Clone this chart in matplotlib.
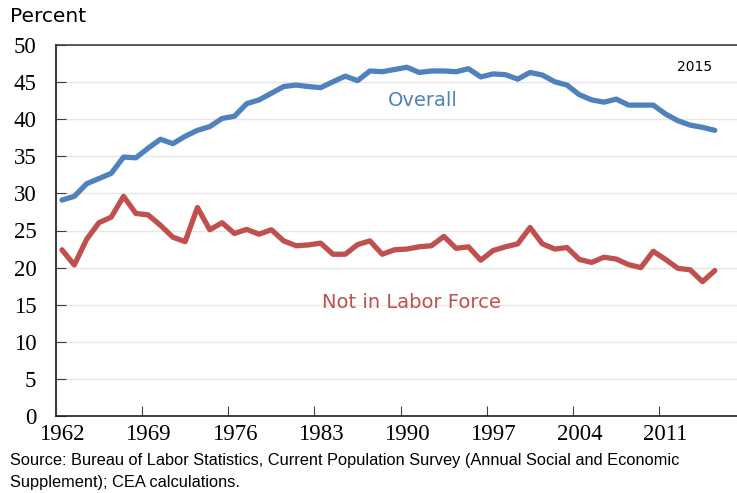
import matplotlib.pyplot as plt
import numpy as np

years = np.arange(1962, 2016)

overall = [29.1, 29.6, 31.3, 32.0, 32.7, 34.9, 34.8, 36.1, 37.3, 36.7,
           37.7, 38.5, 39.0, 40.1, 40.4, 42.1, 42.6, 43.5, 44.4, 44.6,
           44.4, 44.25, 45.05, 45.8, 45.2, 46.5, 46.4, 46.7, 47.0, 46.3,
           46.5, 46.5, 46.4, 46.8, 45.7, 46.1, 46.0, 45.4, 46.3, 45.95,
           45.05, 44.6, 43.3, 42.6, 42.3, 42.7, 41.9, 41.9, 41.9, 40.7,
           39.8, 39.2, 38.9, 38.5]

not_in_lf = [22.4, 20.35, 23.8, 26.05, 26.8, 29.6, 27.3, 27.1, 25.7, 24.1,
             23.5, 28.1, 25.1, 26.05, 24.6, 25.15, 24.5, 25.1, 23.6, 22.95,
             23.05, 23.3, 21.8, 21.8, 23.1, 23.6, 21.8, 22.4, 22.5, 22.8,
             22.95, 24.2, 22.6, 22.8, 21.0, 22.3, 22.8, 23.2, 25.4, 23.2,
             22.5, 22.7, 21.1, 20.7, 21.4, 21.15, 20.4, 20.0, 22.2, 21.1,
             19.9, 19.7, 18.1, 19.6]

label_years = np.arange(1962, 2012, 7)
y_ticks = np.arange(0, 51, 5)

BLUE = "#4F81BD"
RED = "#C0504D"

fig = plt.figure(figsize=(7.37, 4.93), dpi=100)
ax = fig.add_axes([55.8 / 737, 1 - 416 / 493, 1 - 55.8 / 737, (416 - 45) / 493])

ax.plot(years, overall, color=BLUE, lw=3.8, solid_capstyle="round", zorder=3)
ax.plot(years, not_in_lf, color=RED, lw=3.8, solid_capstyle="round", zorder=3)

ax.set_xlim(1961.5, 2016.8)
ax.set_ylim(0, 50)

ax.set_yticks(y_ticks)
ax.grid(axis="y", color="#e6e6e6", lw=1.0, zorder=0)
ax.set_axisbelow(True)

# tick marks sit between categories, labels on the categories
ax.set_xticks(label_years - 0.5)
ax.set_xticklabels([])
ax.set_xticks(label_years, minor=True)
ax.set_xticklabels([str(y) for y in label_years], minor=True)
ax.tick_params(axis="x", which="major", direction="in", length=7, color="#404040")
ax.tick_params(axis="x", which="minor", length=0, pad=6, labelsize=16.5)
ax.tick_params(axis="y", direction="in", length=7, color="#404040", pad=14, labelsize=16.5)
for lab in ax.get_xticklabels(minor=True) + ax.get_yticklabels():
    lab.set_family("Liberation Serif")

ax.spines["right"].set_visible(False)
ax.spines["top"].set_color("#404040")
ax.spines["left"].set_color("#404040")
ax.spines["bottom"].set_color("#202020")
ax.spines["left"].set_linewidth(1.5)
ax.spines["top"].set_linewidth(1.2)
ax.spines["bottom"].set_linewidth(1.2)

ax.text(423 / 737, 1 - 101 / 493, "Overall", transform=fig.transFigure, color=BLUE,
        fontsize=14, ha="center", va="center")
ax.text(411 / 737, 1 - 303 / 493, "Not in Labor Force", transform=fig.transFigure,
        color=RED, fontsize=14, ha="center", va="center")
ax.text(695 / 737, 1 - 67 / 493, "2015", transform=fig.transFigure, color="black",
        fontsize=10, ha="center", va="center")

fig.text(10 / 737, 1 - 16 / 493, "Percent", fontsize=14.5, ha="left", va="center")
fig.text(10 / 737, 1 - 460 / 493,
         "Source: Bureau of Labor Statistics, Current Population Survey (Annual Social and Economic",
         fontsize=11.8, ha="left", va="center", family="Liberation Sans")
fig.text(10 / 737, 1 - 482 / 493, "Supplement); CEA calculations.",
         fontsize=11.8, ha="left", va="center", family="Liberation Sans")

fig.savefig("out.png", dpi=100)
